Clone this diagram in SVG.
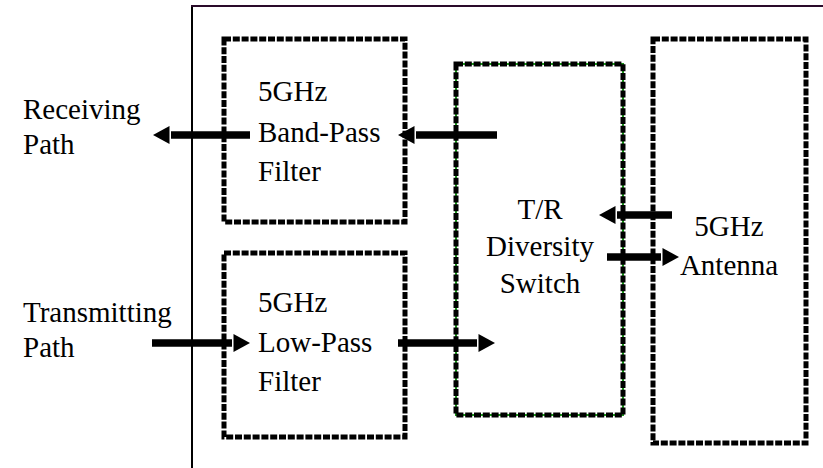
<svg xmlns="http://www.w3.org/2000/svg" width="823" height="468" viewBox="0 0 823 468">
<style>
.t{font-family:'Times New Roman','Liberation Serif',Tinos,'Noto Serif','DejaVu Serif','Nimbus Roman','Nimbus Roman No9 L',FreeSerif,Georgia,serif;font-size:29px;fill:#000}
.box{fill:none;stroke:#000;stroke-width:5;stroke-dasharray:7 1.8}
.green{fill:none;stroke:#1a9a1a;stroke-width:2}
.shaft{stroke:#000;stroke-width:7.5;fill:none}
.head{fill:#000}
</style>
<rect width="823" height="468" fill="#fff"/>
<g id="frame">
<line x1="192" y1="468" x2="192" y2="6" stroke="#000" stroke-width="2"/>
<line x1="191" y1="6" x2="823" y2="6" stroke="#2a0a2a" stroke-width="2"/>
</g>
<g id="bandpass">
<rect class="box" x="224" y="39" width="181" height="183"/>
<text class="t" x="258" y="101">5GHz</text>
<text class="t" x="258" y="142">Band-Pass</text>
<text class="t" x="258" y="181">Filter</text>
</g>
<g id="lowpass">
<rect class="box" x="224" y="253" width="181" height="184"/>
<text class="t" x="258" y="312">5GHz</text>
<text class="t" x="258" y="352">Low-Pass</text>
<text class="t" x="258" y="391">Filter</text>
</g>
<g id="switch">
<rect class="green" x="456" y="64" width="167" height="351"/>
<rect class="box" x="456" y="64" width="167" height="351"/>
<text class="t" x="540" y="219" text-anchor="middle">T/R</text>
<text class="t" x="540" y="256" text-anchor="middle">Diversity</text>
<text class="t" x="540" y="293" text-anchor="middle">Switch</text>
</g>
<g id="antenna">
<rect class="box" x="653" y="39" width="153" height="404"/>
<text class="t" x="729" y="236" text-anchor="middle">5GHz</text>
<text class="t" x="729" y="275" text-anchor="middle">Antenna</text>
</g>
<g id="labels">
<text class="t" x="23" y="119">Receiving</text>
<text class="t" x="23" y="154">Path</text>
<text class="t" x="23" y="322">Transmitting</text>
<text class="t" x="23" y="357">Path</text>
</g>
<g id="connectors">
<line class="shaft" x1="497" y1="135" x2="416" y2="135"/>
<polygon class="head" points="398,135 414.5,126 414.5,144"/>
<line class="shaft" x1="250" y1="135" x2="171" y2="135"/>
<polygon class="head" points="153,135 169.5,126 169.5,144"/>
<line class="shaft" x1="672" y1="215" x2="617" y2="215"/>
<polygon class="head" points="599,215 615.5,206 615.5,224"/>
<line class="shaft" x1="607" y1="257" x2="661" y2="257"/>
<polygon class="head" points="679,257 662.5,248 662.5,266"/>
<line class="shaft" x1="152" y1="343" x2="232" y2="343"/>
<polygon class="head" points="250,343 233.5,334 233.5,352"/>
<line class="shaft" x1="398" y1="343" x2="477" y2="343"/>
<polygon class="head" points="495,343 478.5,334 478.5,352"/>
</g>
</svg>
